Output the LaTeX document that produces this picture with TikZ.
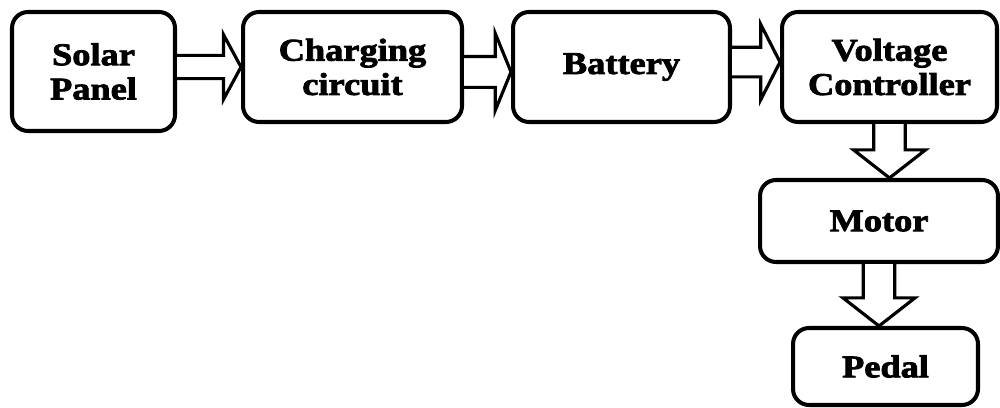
\documentclass[tikz,border=0pt]{standalone}
\usepackage{fontspec}
\newfontfamily\lab{Liberation Serif}[BoldFeatures={FakeBold=2.5,FakeStretch=1.15}]
\usetikzlibrary{calc}
\tikzset{
  blk/.style={draw=black, line width=2.3pt, rounded corners=0.32cm, fill=white,
    align=center, inner sep=0pt, font=\lab\bfseries\fontsize{18}{19.5}\selectfont},
  arr/.style={draw=black, line width=1.8pt, fill=white, line join=miter},
}
% horizontal hollow arrow: from, to, y offset, shaft half, head half, head length
\newcommand\harr[6]{%
  \draw[arr] let \p1=(#1.east), \p2=(#2.west) in
    (\x1,\y2+#3-#4) -- (\x2-#6,\y2+#3-#4) -- (\x2-#6,\y2+#3-#5) -- (\x2,\y2+#3)
    -- (\x2-#6,\y2+#3+#5) -- (\x2-#6,\y2+#3+#4) -- (\x1,\y2+#3+#4);}
% vertical hollow arrow: from, to, shaft half, head half, head length
\newcommand\varr[5]{%
  \draw[arr] let \p1=(#1.south), \p2=(#2.north) in
    (\x1-#3,\y1) -- (\x1-#3,\y2+#5) -- (\x1-#4,\y2+#5) -- (\x1,\y2)
    -- (\x1+#4,\y2+#5) -- (\x1+#3,\y2+#5) -- (\x1+#3,\y1);}
\begin{document}
\begin{tikzpicture}[x=0.02cm,y=-0.02cm]
\useasboundingbox (0,0) rectangle (1000,408);
\node[blk, minimum width=3.26cm, minimum height=2.38cm] (solar) at (93.5,71.5) {Solar\\Panel};
\node[blk, minimum width=4.38cm, minimum height=2.2cm] (charge) at (352.5,67) {Charging\\circuit};
\node[blk, minimum width=4.34cm, minimum height=2.2cm] (bat) at (621.5,67) {Battery};
\node[blk, minimum width=4.3cm, minimum height=2.2cm] (vc) at (889.5,67) {Voltage\\Controller};
\node[blk, minimum width=4.76cm, minimum height=1.64cm] (motor) at (879,221) {Motor};
\node[blk, minimum width=3.7cm, minimum height=1.54cm] (pedal) at (885.5,366.5) {Pedal};
\harr{solar}{charge}{0pt}{6.6pt}{18.5pt}{10pt}
\harr{charge}{bat}{-2.8pt}{8.8pt}{22pt}{9pt}
\harr{bat}{vc}{2.8pt}{8.4pt}{21.5pt}{11pt}
\varr{vc}{motor}{9pt}{20.5pt}{16pt}
\varr{motor}{pedal}{9pt}{20.5pt}{16pt}
\end{tikzpicture}
\end{document}
